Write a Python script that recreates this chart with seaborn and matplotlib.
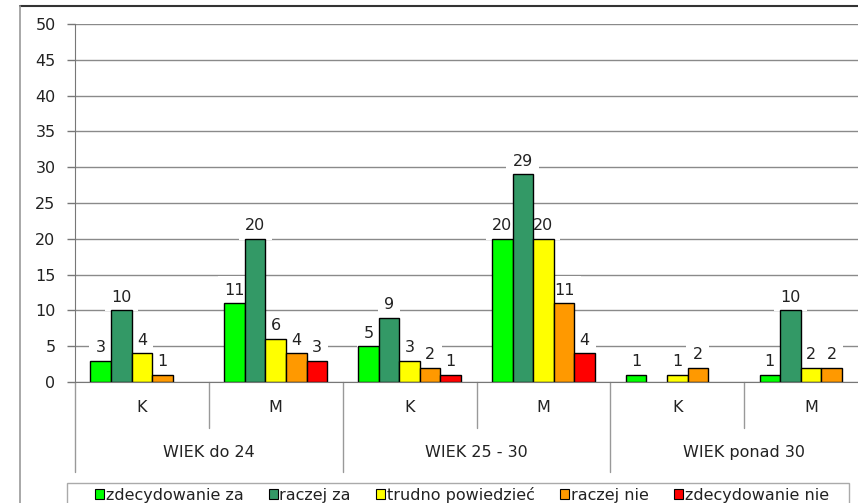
import pandas as pd
import seaborn as sns
import matplotlib.pyplot as plt
from matplotlib.lines import Line2D
from matplotlib.patches import Patch, Rectangle

# === Data ===
groups = ["WIEK do 24", "WIEK 25 - 30", "WIEK ponad 30"]
sexes = ["K", "M"]
categories = ["do24 K", "do24 M", "25-30 K", "25-30 M", "ponad30 K", "ponad30 M"]
responses = ["zdecydowanie za", "raczej za", "trudno powiedzieć", "raczej nie", "zdecydowanie nie"]
zdecydowanie_za = [3, 11, 5, 20, 1, 1]
raczej_za = [10, 20, 9, 29, 0, 10]
trudno_powiedziec = [4, 6, 3, 20, 1, 2]
raczej_nie = [1, 4, 2, 11, 2, 2]
zdecydowanie_nie = [0, 3, 1, 4, 0, 0]
colors = ["#00FF00", "#339966", "#FFFF00", "#FF9900", "#FF0000"]

series = [zdecydowanie_za, raczej_za, trudno_powiedziec, raczej_nie, zdecydowanie_nie]
rows = []
for resp, vals in zip(responses, series):
    for cat, v in zip(categories, vals):
        rows.append({"cat": cat, "resp": resp, "val": v})
df = pd.DataFrame(rows)

sns.set_style("white")
plt.rcParams["font.family"] = ["DejaVu Sans"]
FS = 11.5
TXT = "#222222"

W, H = 858, 503
fig = plt.figure(figsize=(W / 100, H / 100), dpi=100)
# axes extends past the right edge, like the cropped original
ax = fig.add_axes([75 / W, (H - 382) / H, 803 / W, 358 / H])

sns.barplot(data=df, x="cat", y="val", hue="resp", order=categories,
            hue_order=responses, palette=colors, saturation=1,
            edgecolor="black", linewidth=1, width=0.77, ax=ax, legend=False)

# hide empty bars and label the rest (labels sit under the bars, over the grid)
for cont in ax.containers:
    for p in cont.patches:
        p.set_zorder(2)
        if p.get_height() == 0:
            p.set_visible(False)
    labels = ["" if v == 0 else f"{v:.0f}" for v in cont.datavalues]
    txts = ax.bar_label(cont, labels=labels, padding=4, fontsize=FS, color=TXT,
                        bbox=dict(boxstyle="square,pad=0.4", fc="white", ec="none"))
    for t in txts:
        t.set_zorder(1.5)

ax.set_xlim(-0.5, 5.5)
ax.set_ylim(0, 50)
ax.set_yticks(range(0, 51, 5))
ax.yaxis.grid(True, color="#8a8a8a", lw=1, zorder=0.5)
ax.set_axisbelow(True)
ax.tick_params(axis="y", left=True, length=6, width=1, color="#777777",
               labelsize=FS, labelcolor=TXT, pad=8)
ax.tick_params(axis="x", bottom=False, labelbottom=False)
ax.set_xlabel("")
ax.set_ylabel("")
for s in ["top", "right"]:
    ax.spines[s].set_visible(False)
ax.spines["left"].set_color("#777777")
ax.spines["bottom"].set_color("#777777")
ax.spines["bottom"].set_zorder(3)

# two-level category axis
tr = ax.get_xaxis_transform()
for i, cat in enumerate(categories):
    ax.text(i, -0.072, sexes[i % 2], transform=tr, ha="center", va="center",
            fontsize=FS, color=TXT)
for j, g in enumerate(groups):
    ax.text(2 * j + 0.5, -0.196, g, transform=tr, ha="center", va="center",
            fontsize=FS, color=TXT)
for x in [0.5, 2.5, 4.5]:
    ax.add_line(Line2D([x, x], [0, -0.128], transform=tr, color="#999999",
                       lw=1, clip_on=False))
for x in [-0.5, 1.5, 3.5, 5.5]:
    ax.add_line(Line2D([x, x], [0, -0.25], transform=tr, color="#999999",
                       lw=1, clip_on=False))

# chart area frame (cropped at right and bottom)
fig.add_artist(Line2D([20 / W, 1], [1 - 6 / H, 1 - 6 / H], color="#333333", lw=1.5))
fig.add_artist(Line2D([20 / W, 20 / W], [0, 1 - 6 / H], color="#999999", lw=1.2))

# legend frame (its bottom is cut off by the image edge)
fig.add_artist(Rectangle((67 / W, -0.1), (849 - 67) / W, 20 / H + 0.1,
                         transform=fig.transFigure, fill=False,
                         edgecolor="#aaaaaa", lw=1))
handles = [Patch(facecolor=c, edgecolor="black", lw=0.8) for c in colors]
fig.legend(handles, responses, loc="center left", ncol=5,
           bbox_to_anchor=(95 / W, 8 / H), frameon=False,
           fontsize=FS, borderpad=0, borderaxespad=0,
           handlelength=0.56, handleheight=0.56, handletextpad=0.1,
           columnspacing=1.6, labelcolor=TXT)

fig.savefig("out.png", dpi=100)
